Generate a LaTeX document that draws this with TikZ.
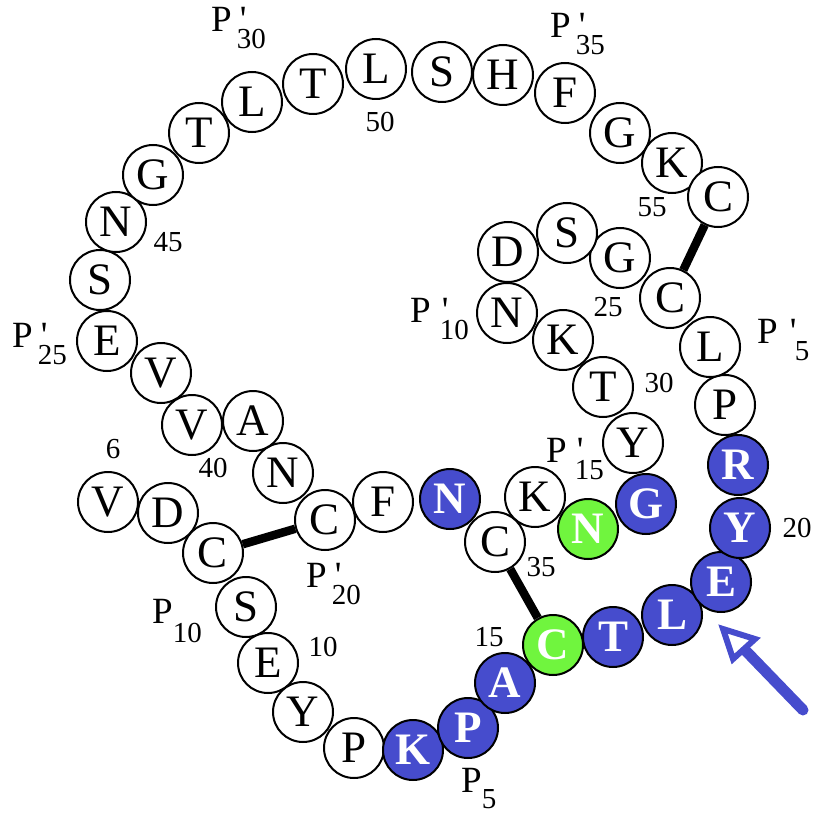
\documentclass[tikz,border=0pt]{standalone}
\usepackage{fontspec}
\setmainfont{Liberation Serif}
\definecolor{pblue}{RGB}{70,76,205}
\definecolor{pgreen}{RGB}{112,245,62}
\newcommand\primelab[3][0pt]{P\kern5pt\kern#1\rlap{\kern3pt\textquotesingle}\kern#2\raisebox{-17pt}{\fontsize{29}{29}\selectfont #3}}
\newcommand\plainlab[2]{P\raisebox{-#1}{\fontsize{29}{29}\selectfont #2}}
\tikzset{
 res/.style={circle, draw=black, line width=2pt, fill=white, minimum size=60pt, inner sep=0pt, font=\fontsize{45}{45}\selectfont},
 bres/.style={res, fill=pblue, text=white, font=\fontsize{45}{45}\selectfont\bfseries},
 gres/.style={bres, fill=pgreen},
 num/.style={font=\fontsize{29}{29}\selectfont, inner sep=0pt},
 plab/.style={font=\fontsize{37}{37}\selectfont, inner sep=0pt, anchor=base west},
 bond/.style={line width=8.5pt, draw=black},
 arrshaft/.style={draw=pblue, line width=11pt, line cap=round},
 arrhead/.style={draw=pblue, line width=6pt, fill=white, line join=miter}
}
\begin{document}
\begin{tikzpicture}[x=1pt,y=-1pt]
\useasboundingbox (0,0) rectangle (813,813);
% chain
\node[res]  (r1)  at (108,502) {V};
\node[res]  (r2)  at (168,513) {D};
\node[res]  (r3)  at (213,553) {C};
\node[res]  (r4)  at (246,607) {S};
\node[res]  (r5)  at (268,663) {E};
\node[res]  (r6)  at (303,712) {Y};
\node[res]  (r7)  at (354,748) {P};
\node[bres] (r8)  at (413,750) {K};
\node[bres] (r9)  at (468,728) {P};
\node[bres] (r10) at (505,683) {A};
\node[gres] (r11) at (553,645) {C};
\node[bres] (r12) at (613,637) {T};
\node[bres] (r13) at (672,615) {L};
\node[bres] (r14) at (721,582) {E};
\node[bres] (r15) at (740,528) {Y};
\node[bres] (r16) at (738,465) {R};
\node[res]  (r17) at (725,405) {P};
\node[res]  (r18) at (710,347) {L};
\node[res]  (r19) at (670,298) {C};
\node[res]  (r20) at (620,258) {G};
\node[res]  (r21) at (567,233) {S};
\node[res]  (r22) at (508,252) {D};
\node[res]  (r23) at (507,313) {N};
\node[res]  (r24) at (563,340) {K};
\node[res]  (r25) at (603,387) {T};
\node[res]  (r26) at (633,443) {Y};
\node[bres] (r27) at (646,504) {G};
\node[gres] (r28) at (588,529) {N};
\node[res]  (r29) at (535,497) {K};
\node[res]  (r30) at (495,542) {C};
\node[bres] (r31) at (450,499) {N};
\node[res]  (r32) at (383,502) {F};
\node[res]  (r33) at (325,520) {C};
\node[res]  (r34) at (283,473) {N};
\node[res]  (r35) at (253,421) {A};
\node[res]  (r36) at (192,425) {V};
\node[res]  (r37) at (161,373) {V};
\node[res]  (r38) at (107,341) {E};
\node[res]  (r39) at (100,280) {S};
\node[res]  (r40) at (116,222) {N};
\node[res]  (r41) at (153,175) {G};
\node[res]  (r42) at (199,133) {T};
\node[res]  (r43) at (252,102) {L};
\node[res]  (r44) at (313,84) {T};
\node[res]  (r45) at (376,69) {L};
\node[res]  (r46) at (442,72) {S};
\node[res]  (r47) at (503,75) {H};
\node[res]  (r48) at (565,93) {F};
\node[res]  (r49) at (620,133) {G};
\node[res]  (r50) at (672,163) {K};
\node[res]  (r51) at (718,197) {C};
% disulfide bonds
\draw[bond] (r3) -- (r33);
\draw[bond] (r51) -- (r19);
\draw[bond] (r30) -- (r11);
% residue numbers
\node[num] (n6)  at (113,449) {6};
\node[num] (n10) at (323,647) {10};
\node[num] (n15) at (489,637) {15};
\node[num] (n20) at (797,528) {20};
\node[num] (n25) at (608,307) {25};
\node[num] (n30) at (659,383) {30};
\node[num] (n35) at (541,567) {35};
\node[num] (n40) at (213,468) {40};
\node[num] (n45) at (168,242) {45};
\node[num] (n50) at (380,122) {50};
\node[num] (n55) at (652,207) {55};
% subsite labels
\node[plab] (p30) at (211,32) {\primelab{0pt}{30}};
\node[plab] (p35) at (550,38) {\primelab{0pt}{35}};
\node[plab] (p25) at (12,347) {\primelab{0pt}{25}};
\node[plab] (p20) at (306,587) {\primelab{0pt}{20}};
\node[plab] (p15) at (546,462) {\primelab[2pt]{1pt}{15}};
\node[plab] (p10) at (410,322) {\primelab[3pt]{1pt}{10}};
\node[plab] (p5)  at (757,343) {\primelab[4pt]{8pt}{5}};
\node[plab] (q10) at (152,623) {\plainlab{19pt}{10}};
\node[plab] (q5)  at (461,792) {\plainlab{16pt}{5}};
% arrow
\coordinate (atip) at (723,629);
\coordinate (ac1) at (755,639);
\coordinate (ac2) at (733,659);
\coordinate (abase) at (744,649);
\coordinate (atail) at (803,710);
\draw[arrshaft] (abase) -- (atail);
\draw[arrhead] (atip) -- (ac1) -- (ac2) -- cycle;
\end{tikzpicture}
\end{document}
